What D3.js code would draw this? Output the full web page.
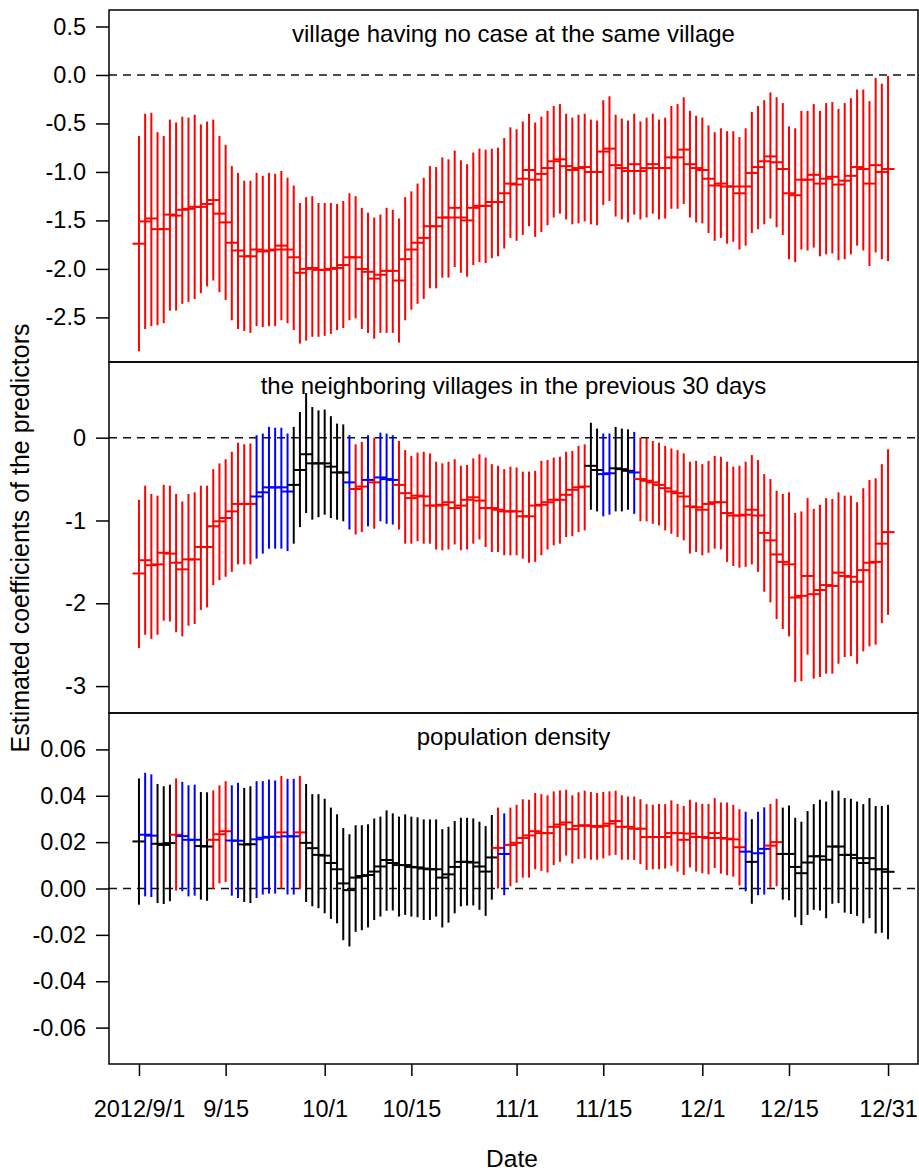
<!DOCTYPE html>
<html>
<head>
<meta charset="utf-8">
<script src="https://cdn.jsdelivr.net/npm/d3@7"></script>
<style>
  body { margin: 0; background: #fff; }
  text { font-family: "Liberation Sans", Arial, sans-serif; fill: #000; }
</style>
</head>
<body>
<svg id="chart" width="919" height="1170"></svg>
<script>
// one estimate per day, 2012/9/1 .. 2012/12/31
var firstDay = "2012-09-01", lastDay = "2012-12-31";
var tickDates = ["2012-09-01", "2012-09-15", "2012-10-01", "2012-10-15", "2012-11-01",
                 "2012-11-15", "2012-12-01", "2012-12-15", "2012-12-31"];
var tickLabels = ["2012/9/1", "9/15", "10/1", "10/15", "11/1", "11/15", "12/1", "12/15", "12/31"];

var titles = ["village having no case at the same village",
              "the neighboring villages in the previous 30 days",
              "population density"];

// panel 1: village having no case
var p1Est = [-1.74,-1.51,-1.48,-1.59,-1.59,-1.44,-1.45,-1.39,-1.38,-1.36,
  -1.36,-1.33,-1.29,-1.43,-1.52,-1.73,-1.81,-1.87,-1.87,-1.80,
  -1.82,-1.81,-1.80,-1.76,-1.80,-1.88,-2.04,-2.00,-1.99,-2.01,
  -2.01,-2.00,-1.99,-1.96,-1.88,-1.88,-2.00,-2.03,-2.10,-2.06,
  -2.02,-2.02,-2.12,-1.90,-1.80,-1.73,-1.68,-1.56,-1.56,-1.47,
  -1.47,-1.37,-1.47,-1.50,-1.37,-1.35,-1.35,-1.31,-1.31,-1.22,
  -1.12,-1.13,-1.07,-0.98,-1.08,-1.02,-0.96,-0.89,-0.87,-0.94,
  -0.98,-0.96,-0.95,-1.00,-1.00,-0.79,-0.76,-0.93,-0.96,-0.99,
  -0.92,-0.99,-0.96,-0.92,-0.96,-0.96,-0.85,-0.85,-0.77,-0.92,
  -0.96,-0.98,-1.07,-1.14,-1.12,-1.15,-1.15,-1.22,-1.15,-1.01,
  -0.95,-0.89,-0.84,-0.90,-0.97,-1.22,-1.24,-1.08,-1.08,-1.03,
  -1.12,-1.07,-1.05,-1.13,-1.09,-1.04,-0.95,-0.97,-1.12,-0.93,
  -1.00,-0.97];
var p1Lo = [-2.85,-2.62,-2.59,-2.58,-2.56,-2.43,-2.43,-2.36,-2.34,-2.31,
  -2.25,-2.18,-2.12,-2.24,-2.32,-2.53,-2.62,-2.64,-2.66,-2.59,
  -2.60,-2.59,-2.59,-2.53,-2.56,-2.63,-2.77,-2.74,-2.70,-2.70,
  -2.69,-2.67,-2.63,-2.61,-2.53,-2.51,-2.62,-2.66,-2.72,-2.66,
  -2.66,-2.66,-2.76,-2.53,-2.42,-2.36,-2.31,-2.20,-2.20,-2.09,
  -2.09,-1.98,-2.04,-2.08,-1.96,-1.93,-1.94,-1.89,-1.87,-1.79,
  -1.68,-1.71,-1.65,-1.56,-1.67,-1.62,-1.55,-1.47,-1.43,-1.49,
  -1.54,-1.53,-1.51,-1.54,-1.55,-1.34,-1.30,-1.46,-1.49,-1.52,
  -1.44,-1.49,-1.47,-1.43,-1.49,-1.48,-1.38,-1.38,-1.33,-1.47,
  -1.52,-1.53,-1.63,-1.71,-1.68,-1.74,-1.72,-1.80,-1.76,-1.63,
  -1.59,-1.54,-1.48,-1.57,-1.65,-1.90,-1.93,-1.80,-1.81,-1.78,
  -1.87,-1.85,-1.84,-1.91,-1.90,-1.85,-1.76,-1.81,-1.97,-1.83,
  -1.90,-1.92];
var p1Hi = [-0.63,-0.40,-0.39,-0.59,-0.63,-0.46,-0.49,-0.43,-0.44,-0.41,
  -0.51,-0.48,-0.46,-0.63,-0.72,-0.94,-1.01,-1.09,-1.09,-1.01,
  -1.04,-1.01,-1.02,-0.99,-1.06,-1.14,-1.32,-1.26,-1.25,-1.32,
  -1.32,-1.32,-1.33,-1.30,-1.22,-1.25,-1.37,-1.42,-1.47,-1.44,
  -1.37,-1.39,-1.48,-1.26,-1.20,-1.12,-1.06,-0.94,-0.95,-0.85,
  -0.87,-0.78,-0.88,-0.92,-0.80,-0.76,-0.77,-0.76,-0.75,-0.65,
  -0.54,-0.56,-0.48,-0.40,-0.49,-0.43,-0.37,-0.32,-0.30,-0.40,
  -0.44,-0.41,-0.40,-0.46,-0.47,-0.26,-0.22,-0.41,-0.45,-0.47,
  -0.40,-0.48,-0.44,-0.40,-0.46,-0.44,-0.32,-0.30,-0.23,-0.37,
  -0.42,-0.44,-0.52,-0.59,-0.55,-0.58,-0.58,-0.64,-0.55,-0.38,
  -0.32,-0.26,-0.18,-0.23,-0.29,-0.53,-0.55,-0.37,-0.37,-0.30,
  -0.37,-0.29,-0.28,-0.35,-0.29,-0.24,-0.15,-0.15,-0.27,-0.03,
  -0.09,-0.01];
var p1Runs = [["r", 122]];

// panel 2: neighboring villages, previous 30 days
var p2Est = [-1.64,-1.48,-1.54,-1.53,-1.39,-1.40,-1.51,-1.59,-1.47,-1.47,
  -1.32,-1.32,-1.07,-1.01,-0.97,-0.89,-0.80,-0.80,-0.80,-0.71,
  -0.66,-0.60,-0.60,-0.60,-0.65,-0.57,-0.39,-0.20,-0.31,-0.31,
  -0.31,-0.35,-0.42,-0.42,-0.54,-0.62,-0.59,-0.51,-0.54,-0.48,
  -0.50,-0.51,-0.57,-0.67,-0.73,-0.70,-0.71,-0.82,-0.82,-0.81,
  -0.78,-0.85,-0.82,-0.75,-0.72,-0.76,-0.85,-0.85,-0.87,-0.89,
  -0.89,-0.89,-0.95,-0.95,-0.82,-0.81,-0.78,-0.75,-0.75,-0.69,
  -0.63,-0.60,-0.59,-0.34,-0.39,-0.44,-0.43,-0.37,-0.38,-0.40,
  -0.42,-0.50,-0.52,-0.54,-0.57,-0.61,-0.65,-0.67,-0.71,-0.83,
  -0.84,-0.87,-0.80,-0.78,-0.78,-0.91,-0.94,-0.94,-0.93,-0.87,
  -0.94,-1.15,-1.24,-1.41,-1.50,-1.53,-1.93,-1.91,-1.67,-1.89,
  -1.84,-1.78,-1.79,-1.63,-1.67,-1.68,-1.74,-1.60,-1.51,-1.50,
  -1.28,-1.14];
var p2Lo = [-2.54,-2.38,-2.43,-2.38,-2.21,-2.22,-2.35,-2.40,-2.27,-2.25,
  -2.08,-2.05,-1.78,-1.72,-1.68,-1.62,-1.53,-1.53,-1.53,-1.46,
  -1.40,-1.34,-1.34,-1.34,-1.37,-1.28,-1.08,-0.91,-0.99,-0.96,
  -0.93,-0.97,-0.99,-1.01,-1.11,-1.17,-1.14,-1.07,-1.10,-1.01,
  -1.04,-1.05,-1.11,-1.28,-1.28,-1.25,-1.28,-1.28,-1.35,-1.36,
  -1.35,-1.29,-1.36,-1.35,-1.28,-1.23,-1.32,-1.38,-1.38,-1.42,
  -1.42,-1.42,-1.46,-1.51,-1.50,-1.42,-1.35,-1.30,-1.28,-1.20,
  -1.19,-1.14,-1.12,-0.87,-0.89,-0.95,-0.93,-0.89,-0.89,-0.87,
  -0.92,-1.01,-1.01,-1.04,-1.06,-1.12,-1.16,-1.20,-1.24,-1.40,
  -1.38,-1.42,-1.39,-1.34,-1.35,-1.50,-1.55,-1.57,-1.56,-1.53,
  -1.62,-1.86,-1.99,-2.19,-2.31,-2.40,-2.95,-2.94,-2.62,-2.91,
  -2.89,-2.85,-2.85,-2.73,-2.65,-2.64,-2.73,-2.58,-2.52,-2.50,
  -2.24,-2.14];
var p2Hi = [-0.75,-0.58,-0.68,-0.70,-0.57,-0.58,-0.68,-0.77,-0.68,-0.66,
  -0.58,-0.58,-0.38,-0.31,-0.26,-0.17,-0.06,-0.08,-0.07,0.03,
  0.05,0.13,0.12,0.12,0.05,0.13,0.31,0.54,0.37,0.33,
  0.34,0.26,0.17,0.16,0.03,-0.08,-0.05,0.03,0.00,0.06,
  0.05,0.03,-0.04,-0.15,-0.22,-0.18,-0.17,-0.19,-0.29,-0.31,
  -0.29,-0.26,-0.34,-0.33,-0.25,-0.20,-0.24,-0.32,-0.34,-0.38,
  -0.35,-0.36,-0.41,-0.41,-0.40,-0.28,-0.27,-0.24,-0.23,-0.17,
  -0.16,-0.10,-0.08,0.18,0.11,0.05,0.05,0.13,0.11,0.10,
  0.07,0.00,0.00,-0.04,-0.06,-0.10,-0.13,-0.15,-0.19,-0.29,
  -0.28,-0.32,-0.28,-0.22,-0.23,-0.29,-0.35,-0.34,-0.29,-0.21,
  -0.27,-0.44,-0.50,-0.64,-0.68,-0.66,-0.91,-0.89,-0.73,-0.86,
  -0.81,-0.73,-0.74,-0.66,-0.70,-0.70,-0.78,-0.61,-0.51,-0.49,
  -0.32,-0.14];
var p2Runs = [["r",19],["b",6],["k",9],["b",1],["r",2],["b",1],["r",1],["b",3],
  ["r",31],["k",2],["b",2],["k",3],["b",1],["r",41]];

// panel 3: population density
var p3Est = [0.0203,0.0232,0.0228,0.0193,0.0188,0.0196,0.0232,0.0226,0.0210,0.0210,
  0.0183,0.0181,0.0210,0.0234,0.0247,0.0207,0.0206,0.0190,0.0191,0.0212,
  0.0219,0.0223,0.0223,0.0242,0.0225,0.0225,0.0242,0.0197,0.0174,0.0145,
  0.0142,0.0110,0.0083,0.0022,-0.0007,0.0047,0.0054,0.0058,0.0073,0.0095,
  0.0123,0.0110,0.0101,0.0101,0.0093,0.0091,0.0086,0.0083,0.0083,0.0047,
  0.0061,0.0093,0.0115,0.0115,0.0112,0.0095,0.0073,0.0134,0.0175,0.0149,
  0.0188,0.0197,0.0218,0.0229,0.0247,0.0239,0.0239,0.0266,0.0276,0.0285,
  0.0256,0.0270,0.0273,0.0270,0.0266,0.0270,0.0280,0.0291,0.0266,0.0266,
  0.0258,0.0258,0.0222,0.0222,0.0222,0.0222,0.0239,0.0239,0.0210,0.0237,
  0.0222,0.0222,0.0218,0.0239,0.0218,0.0215,0.0212,0.0178,0.0159,0.0115,
  0.0152,0.0171,0.0185,0.0200,0.0149,0.0149,0.0093,0.0066,0.0112,0.0139,
  0.0139,0.0124,0.0181,0.0181,0.0145,0.0145,0.0131,0.0110,0.0131,0.0083,
  0.0083,0.0072];
var p3Lo = [-0.0070,-0.0034,-0.0037,-0.0063,-0.0067,-0.0055,-0.0009,-0.0012,-0.0034,-0.0031,
  -0.0048,-0.0053,-0.0001,0.0022,0.0028,-0.0031,-0.0041,-0.0058,-0.0063,-0.0041,
  -0.0026,-0.0022,-0.0022,0.0000,-0.0026,-0.0026,-0.0004,-0.0058,-0.0077,-0.0085,
  -0.0107,-0.0131,-0.0150,-0.0223,-0.0250,-0.0187,-0.0180,-0.0168,-0.0136,-0.0121,
  -0.0096,-0.0095,-0.0121,-0.0114,-0.0121,-0.0124,-0.0136,-0.0136,-0.0121,-0.0168,
  -0.0147,-0.0107,-0.0077,-0.0074,-0.0073,-0.0092,-0.0118,-0.0048,0.0000,-0.0029,
  0.0010,0.0025,0.0047,0.0047,0.0083,0.0076,0.0069,0.0101,0.0115,0.0142,
  0.0108,0.0127,0.0130,0.0124,0.0124,0.0130,0.0142,0.0145,0.0124,0.0124,
  0.0123,0.0105,0.0080,0.0083,0.0083,0.0086,0.0098,0.0073,0.0058,0.0091,
  0.0073,0.0066,0.0061,0.0088,0.0064,0.0057,0.0051,0.0013,-0.0012,-0.0066,
  -0.0029,-0.0026,0.0003,0.0010,-0.0048,-0.0051,-0.0124,-0.0158,-0.0114,-0.0092,
  -0.0095,-0.0128,-0.0066,-0.0063,-0.0104,-0.0110,-0.0118,-0.0150,-0.0128,-0.0194,
  -0.0191,-0.0219];
var p3Hi = [0.0475,0.0499,0.0492,0.0451,0.0441,0.0448,0.0475,0.0460,0.0445,0.0448,
  0.0416,0.0415,0.0423,0.0445,0.0463,0.0445,0.0456,0.0434,0.0441,0.0463,
  0.0463,0.0470,0.0466,0.0485,0.0473,0.0473,0.0485,0.0451,0.0407,0.0407,
  0.0387,0.0349,0.0320,0.0261,0.0234,0.0273,0.0273,0.0277,0.0302,0.0310,
  0.0337,0.0324,0.0310,0.0320,0.0310,0.0307,0.0298,0.0298,0.0298,0.0256,
  0.0266,0.0291,0.0305,0.0305,0.0302,0.0288,0.0269,0.0317,0.0349,0.0324,
  0.0349,0.0361,0.0385,0.0383,0.0412,0.0407,0.0402,0.0419,0.0423,0.0426,
  0.0402,0.0415,0.0422,0.0416,0.0412,0.0416,0.0419,0.0422,0.0402,0.0397,
  0.0397,0.0385,0.0364,0.0361,0.0365,0.0364,0.0380,0.0365,0.0356,0.0383,
  0.0372,0.0365,0.0365,0.0390,0.0371,0.0371,0.0361,0.0342,0.0331,0.0299,
  0.0331,0.0350,0.0365,0.0387,0.0349,0.0358,0.0305,0.0288,0.0334,0.0364,
  0.0383,0.0375,0.0423,0.0422,0.0390,0.0387,0.0375,0.0364,0.0390,0.0356,
  0.0356,0.0361];
var p3Runs = [["k",1],["b",2],["k",3],["r",1],["b",3],["k",2],["r",3],["b",2],["k",2],
  ["b",4],["r",1],["b",2],["r",1],["k",31],["r",1],["b",1],["r",38],["b",1],["k",1],
  ["b",2],["r",2],["k",18]];

var colours = {r: "#ff0000", b: "#0000ff", k: "#000000"};

function expandRuns(runs) {
  var out = [];
  runs.forEach(function(r) { for (var k = 0; k < r[1]; k++) out.push(r[0]); });
  return out;
}

var parseDay = d3.utcParse("%Y-%m-%d");
var day0 = parseDay(firstDay);
var days = d3.utcDay.range(day0, d3.utcDay.offset(parseDay(lastDay), 1));
var DAY = 864e5;

var svg = d3.select("#chart");
svg.append("rect").attr("width", 919).attr("height", 1170).attr("fill", "#fff");

var left = 109, right = 918;
var tickFont = 23.5, titleFont = 24;
// R style 4% padding on both ends
var x = d3.scaleUtc()
    .domain([new Date(day0.getTime() - 4.84 * DAY), new Date(day0.getTime() + 125.84 * DAY)])
    .range([left, right]);

var panels = [
  {est: p1Est, lo: p1Lo, hi: p1Hi, runs: p1Runs, top: 10, bottom: 362,
   dom: [-2.96, 0.67], ticks: [0.5, 0, -0.5, -1, -1.5, -2, -2.5], dec: 1},
  {est: p2Est, lo: p2Lo, hi: p2Hi, runs: p2Runs, top: 362, bottom: 713,
   dom: [-3.325, 0.914], ticks: [0, -1, -2, -3], dec: 0},
  {est: p3Est, lo: p3Lo, hi: p3Hi, runs: p3Runs, top: 713, bottom: 1064,
   dom: [-0.0757, 0.0757], ticks: [0.06, 0.04, 0.02, 0, -0.02, -0.04, -0.06], dec: 2}
];

panels.forEach(function(p, pi) {
  var y = d3.scaleLinear().domain(p.dom).range([p.bottom, p.top]);
  var cols = expandRuns(p.runs);
  var g = svg.append("g");

  // zero reference
  g.append("line")
    .attr("x1", left).attr("x2", right)
    .attr("y1", y(0)).attr("y2", y(0))
    .attr("stroke", "#111").attr("stroke-width", 1.5)
    .attr("stroke-dasharray", "8,6");

  var rows = days.map(function(d, i) {
    return {date: d, est: p.est[i], lo: p.lo[i], hi: p.hi[i], c: colours[cols[i]]};
  });

  var bars = g.selectAll("g.bar").data(rows).enter().append("g").attr("class", "bar");
  bars.append("line")
    .attr("x1", function(d) { return x(d.date); })
    .attr("x2", function(d) { return x(d.date); })
    .attr("y1", function(d) { return y(d.lo); })
    .attr("y2", function(d) { return y(d.hi); })
    .attr("stroke", function(d) { return d.c; })
    .attr("stroke-width", 2);
  bars.append("line")
    .attr("x1", function(d) { return x(d.date) - 6.5; })
    .attr("x2", function(d) { return x(d.date) + 6.5; })
    .attr("y1", function(d) { return y(d.est); })
    .attr("y2", function(d) { return y(d.est); })
    .attr("stroke", function(d) { return d.c; })
    .attr("stroke-width", 2);

  // y axis
  var ax = g.append("g")
    .attr("transform", "translate(" + left + ",0)")
    .call(d3.axisLeft(y).tickValues(p.ticks).tickSize(13).tickPadding(10)
      .tickFormat(function(v) { return v.toFixed(p.dec); }));
  ax.select(".domain").remove();
  ax.selectAll(".tick line").attr("stroke", "#000").attr("stroke-width", 1.5);
  ax.selectAll(".tick text").attr("font-size", tickFont)
    .attr("font-family", "Liberation Sans, Arial, sans-serif").attr("fill", "#000");

  // panel frame
  g.append("rect")
    .attr("x", left).attr("y", p.top)
    .attr("width", right - left).attr("height", p.bottom - p.top)
    .attr("fill", "none").attr("stroke", "#000").attr("stroke-width", 1.5);

  g.append("text")
    .attr("x", (left + right) / 2).attr("y", p.top + 32)
    .attr("text-anchor", "middle").attr("font-size", titleFont)
    .text(titles[pi]);
});

// x axis
var xa = svg.append("g")
  .attr("transform", "translate(0,1064)")
  .call(d3.axisBottom(x).tickValues(tickDates.map(parseDay)).tickSize(12).tickPadding(24)
    .tickFormat(function(d, i) { return tickLabels[i]; }));
xa.select(".domain").remove();
xa.selectAll(".tick line").attr("stroke", "#000").attr("stroke-width", 1.5);
xa.selectAll(".tick text").attr("font-size", tickFont)
  .attr("font-family", "Liberation Sans, Arial, sans-serif").attr("fill", "#000");

svg.append("text")
  .attr("x", 512).attr("y", 1166.5)
  .attr("text-anchor", "middle").attr("font-size", 24.5)
  .text("Date");

svg.append("text")
  .attr("transform", "translate(29,538) rotate(-90)")
  .attr("text-anchor", "middle").attr("font-size", 25)
  .text("Estimated coefficients of the predictors");
</script>
</body>
</html>
